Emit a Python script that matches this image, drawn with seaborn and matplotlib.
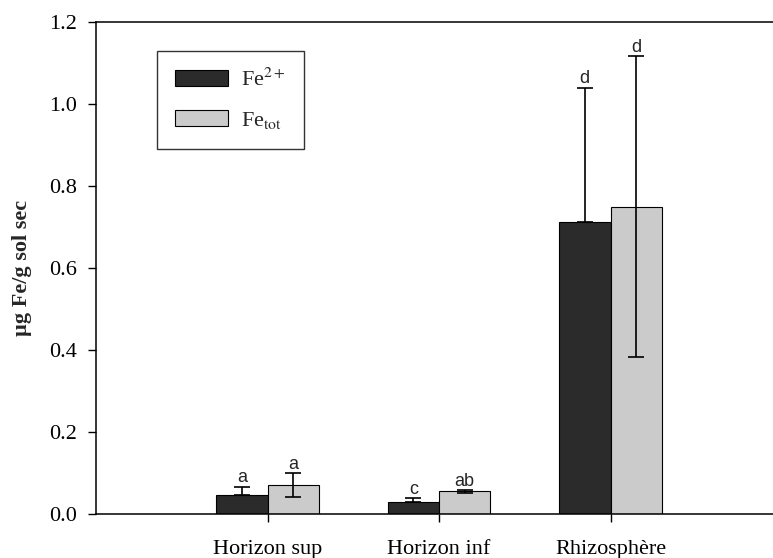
import matplotlib
matplotlib.use("Agg")
import matplotlib.pyplot as plt
import seaborn as sns
import pandas as pd
import numpy as np

categories = ["Horizon sup", "Horizon inf", "Rhizosphère"]
series = ["Fe$^{2+}$", "Fe$_{\\mathrm{tot}}$"]
fe2_values = [0.046, 0.030, 0.712]
fetot_values = [0.070, 0.055, 0.749]
fe2_err = [0.021, 0.008, 0.328]
fetot_err = [0.029, 0.003, 0.367]
fe2_letters = ["a", "c", "d"]
fetot_letters = ["a", "ab", "d"]

sns.set_theme(style="ticks")
plt.rcParams["font.family"] = ["Liberation Serif", "DejaVu Serif"]
plt.rcParams["mathtext.fontset"] = "stix"

df = pd.DataFrame({
    "cat": categories * 2,
    "series": [series[0]] * 3 + [series[1]] * 3,
    "value": fe2_values + fetot_values,
})

fig = plt.figure(figsize=(7.73, 5.58), dpi=100)
ax = fig.add_axes([96 / 773, 44 / 558, 4 * 171.5 / 773, 492 / 558])

dark = "#2b2b2b"
light = "#cbcbcb"
sns.barplot(data=df, x="cat", y="value", hue="series", order=categories,
            hue_order=series, palette=[dark, light], width=0.6,
            errorbar=None, edgecolor="black", linewidth=0.8, ax=ax, legend=True)

bw = 0.3
xs = np.arange(len(categories))
letter_font = ["Liberation Sans", "DejaVu Sans"]
for i in range(len(categories)):
    ax.errorbar(xs[i] - bw / 2, fe2_values[i], yerr=[[0], [fe2_err[i]]],
                fmt="none", ecolor="black", elinewidth=1.2, capsize=5.5, capthick=1.2)
    ax.errorbar(xs[i] + bw / 2, fetot_values[i], yerr=[[fetot_err[i]], [fetot_err[i]]],
                fmt="none", ecolor="black", elinewidth=1.2, capsize=5.5, capthick=1.2)
    ax.annotate(fe2_letters[i], (xs[i] - bw / 2, fe2_values[i] + fe2_err[i]),
                xytext=(0, 0.5), textcoords="offset points", ha="center", va="bottom",
                fontsize=13, family=letter_font)
    ax.annotate(fetot_letters[i], (xs[i] + bw / 2, fetot_values[i] + fetot_err[i]),
                xytext=(0, 0.5), textcoords="offset points", ha="center", va="bottom",
                fontsize=13, family=letter_font)

ax.set_xlim(-1, 3)
ax.set_ylim(0, 1.2)
ax.set_yticks(np.arange(0, 1.21, 0.2))
ax.set_yticklabels([f"{v:.1f}" for v in np.arange(0, 1.21, 0.2)])
ax.set_xlabel("")
ax.set_ylabel("µg Fe/g sol sec", fontsize=16, fontweight="bold", labelpad=12)
ax.tick_params(axis="both", direction="out", length=6, width=1, labelsize=16, colors="black")
ax.tick_params(axis="y", pad=8)
ax.tick_params(axis="x", pad=13)
for s in ["left", "bottom", "top", "right"]:
    ax.spines[s].set_visible(True)
    ax.spines[s].set_color("black")
    ax.spines[s].set_linewidth(1.1)

ax_w = 4 * 171.5
leg = ax.legend(loc="upper left", bbox_to_anchor=((157 - 96) / ax_w, 1 - 29 / 492),
                frameon=True, fancybox=False, edgecolor="black", fontsize=16,
                handlelength=2.4, handleheight=0.7, borderpad=0.8, labelspacing=0.85,
                handletextpad=0.6, borderaxespad=0)
leg.get_frame().set_linewidth(1.0)

fig.savefig("out.png", dpi=100)
